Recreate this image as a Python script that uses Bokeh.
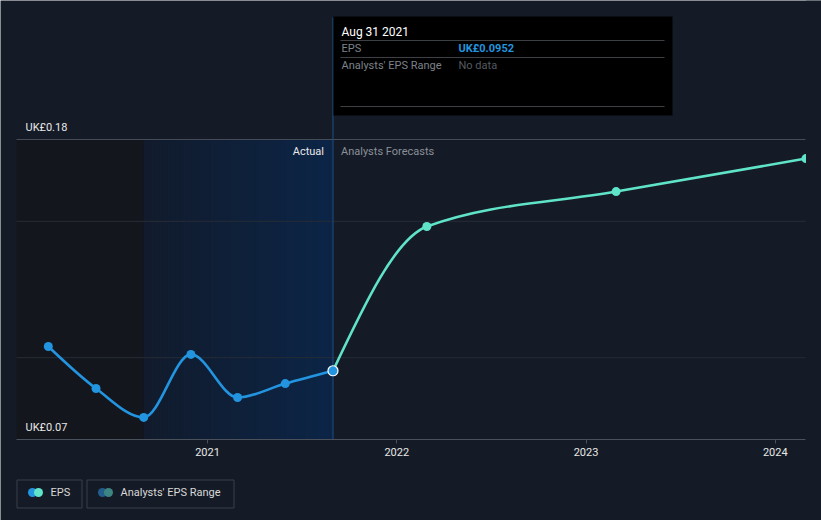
import numpy as np
import pandas as pd
from bokeh.plotting import figure
from bokeh.models import Range1d, FixedTicker, DatetimeTickFormatter, DatetimeAxis
from bokeh.core.properties import value
from bokeh.embed import file_html
from bokeh.resources import INLINE

# ---------------- data ----------------
actual_dates = ["2020-02-29", "2020-05-31", "2020-08-31", "2020-11-30",
                "2021-02-28", "2021-05-31", "2021-08-31"]
actual_eps = [0.1041, 0.0887, 0.0781, 0.1012, 0.0854, 0.0905, 0.0952]

forecast_dates = ["2021-08-31", "2022-02-28", "2023-02-28", "2024-02-29"]
forecast_eps = [0.0952, 0.1481, 0.1609, 0.1730]

year_ticks = ["2021-01-01", "2022-01-01", "2023-01-01", "2024-01-01"]
y_label_values = [0.18, 0.07]
y_labels = ["UK£0.18", "UK£0.07"]
grid_values = [0.10, 0.15]
y_min, y_max = 0.07, 0.18
past_start_date = "2020-08-31"   # start of the last-12-months shading
legend_labels = ["EPS", "Analysts' EPS Range"]

# ---------------- style / geometry ----------------
BG = "#151b26"
FONT = value("Roboto")
BLUE = "#2394df"
TEAL = "#5fe3c9"
DAY_MS = 86400000.0


def ms(d):
    return pd.Timestamp(d).value / 1e6


# pixel geometry of the frame (used for annotations / decoration)
T2021 = ms("2021-01-01")
PX_2021 = 207.0
PX_PER_DAY = 0.51854
PX_PER_UNIT = 300.0 / (y_max - y_min)
PL, PR = 16, 805          # plot band left / right edges (px)


def xd(px):
    return T2021 + (px - PX_2021) / PX_PER_DAY * DAY_MS


def ypx(v):
    return 439.0 - (v - y_min) * PX_PER_UNIT


def yd(py):
    return y_min + (439.0 - py) / PX_PER_UNIT


def monotone_bezier(dates, vals):
    xs = np.array([ms(d) for d in dates]) / DAY_MS
    ys = np.array(vals, dtype=float)
    n = len(xs)
    h = np.diff(xs)
    s = np.diff(ys) / h
    t = np.zeros(n)
    sg = lambda v: -1.0 if v < 0 else 1.0
    for i in range(1, n - 1):
        s0, s1 = s[i - 1], s[i]
        p_ = (s0 * h[i] + s1 * h[i - 1]) / (h[i - 1] + h[i])
        t[i] = (sg(s0) + sg(s1)) * min(abs(s0), abs(s1), 0.5 * abs(p_))
    t[0] = (3 * s[0] - t[1]) / 2
    t[-1] = (3 * s[-1] - t[-2]) / 2
    x0, x1 = xs[:-1], xs[1:]
    dx = h / 3.0
    return dict(
        x0=x0 * DAY_MS, y0=ys[:-1], x1=x1 * DAY_MS, y1=ys[1:],
        cx0=(x0 + dx) * DAY_MS, cy0=ys[:-1] + dx * t[:-1],
        cx1=(x1 - dx) * DAY_MS, cy1=ys[1:] - dx * t[1:],
    )


# ---------------- figure ----------------
p = figure(width=821, height=520,
           x_range=Range1d(xd(0), xd(821)), y_range=Range1d(yd(520), yd(0)),
           x_axis_location=None, y_axis_location=None,
           toolbar_location=None, output_backend="svg",
           min_border=0, min_border_left=0, min_border_right=0,
           min_border_top=0, min_border_bottom=0,
           background_fill_color=BG, border_fill_color=BG)
p.outline_line_color = None
p.xgrid.visible = False
p.ygrid.visible = False

# shaded regions
x_left = xd(PL)
x_right = xd(PR)
p_start = ms(past_start_date)
p_end = ms(actual_dates[-1])
p.quad(left=[x_left], right=[p_start], bottom=[y_min], top=[y_max],
       fill_color="#13161c", line_color=None)
N = 48
edges = np.linspace(p_start, p_end, N + 1)
c0 = np.array([0x11, 0x1b, 0x2c])
c1 = np.array([0x0c, 0x25, 0x47])
cols = []
for i in range(N):
    f = (i + 0.5) / N
    c = (c0 * (1 - f) + c1 * f).round().astype(int)
    cols.append("#%02x%02x%02x" % tuple(c))
# overlapping slices (each reaches the right end) -> no seams
p.quad(left=edges[:-1], right=[p_end] * N, bottom=y_min, top=y_max,
       fill_color=cols, line_color=None)

# horizontal grid lines + top line
p.segment(x0=[x_left] * 2, x1=[x_right] * 2, y0=grid_values, y1=grid_values,
          line_color="#262c37", line_width=1)
p.segment(x0=[x_left], x1=[x_right], y0=[y_max], y1=[y_max],
          line_color="#464c57", line_width=1)

# "now" line
p.segment(x0=[p_end], x1=[p_end], y0=[y_min], y1=[yd(17)],
          line_color="#1f4f86", line_width=1)

# axis baseline
p.segment(x0=[x_left], x1=[x_right], y0=[y_min], y1=[y_min],
          line_color="#4b515b", line_width=1)

# Actual / Analysts Forecasts labels
p.text(x=[p_end], y=[yd(151)], text=["Actual"], x_offset=-9,
       text_align="right", text_baseline="middle", text_font=FONT,
       text_font_size="11px", text_color="#e8e8e8")
p.text(x=[p_end], y=[yd(151)], text=["Analysts Forecasts"], x_offset=8,
       text_align="left", text_baseline="middle", text_font=FONT,
       text_font_size="11px", text_color="#8a8f98")

# y labels
p.text(x=[xd(25)] * 2, y=[yd(ypx(v) - 12) for v in y_label_values],
       text=y_labels, text_align="left", text_baseline="middle",
       text_font=FONT, text_font_size="11px", text_color="#e8e8e8")

# lines
fb = monotone_bezier(forecast_dates, forecast_eps)
p.bezier(line_color=TEAL, line_width=2.6, line_cap="round", **fb)
ab = monotone_bezier(actual_dates, actual_eps)
p.bezier(line_color=BLUE, line_width=2.6, line_cap="round", **ab)

p.scatter(x=[ms(d) for d in forecast_dates[1:]], y=forecast_eps[1:],
          size=9, fill_color=TEAL, line_color=None)
p.scatter(x=[ms(d) for d in actual_dates[:-1]], y=actual_eps[:-1],
          size=9, fill_color=BLUE, line_color=None)
p.scatter(x=[ms(actual_dates[-1])], y=[actual_eps[-1]], size=10,
          fill_color=BLUE, line_color="white", line_width=1.2)

# clip everything past the right edge of the plot band
p.quad(left=[xd(PR + 0.5)], right=[xd(821)], bottom=[yd(520)], top=[yd(0)],
       fill_color=BG, line_color=None)

# x axis (ticks + labels) drawn at the baseline
ax = DatetimeAxis(fixed_location=y_min)
ax.ticker = FixedTicker(ticks=[ms(d) for d in year_ticks])
ax.formatter = DatetimeTickFormatter(
    years="%Y", months="%Y", days="%Y", hours="%Y", minutes="%Y",
    seconds="%Y", milliseconds="%Y", microseconds="%Y", hourmin="%Y",
    minsec="%Y")
ax.axis_line_color = None
ax.major_tick_line_color = "#4b515b"
ax.major_tick_in = 0
ax.major_tick_out = 4
ax.minor_tick_line_color = None
ax.major_label_text_color = "#e8e8e8"
ax.major_label_text_font = "Roboto"
ax.major_label_text_font_size = "11px"
ax.major_label_standoff = 4
p.add_layout(ax, "below")

# tooltip box
p.quad(left=[xd(333)], right=[xd(672)], top=[yd(16)], bottom=[yd(115)],
       fill_color="#000000", line_color=None)
p.segment(x0=[xd(340)] * 3, x1=[xd(664)] * 3,
          y0=[yd(40), yd(57), yd(106)], y1=[yd(40), yd(57), yd(106)],
          line_color="#3d4045", line_width=1)
tip_date = pd.Timestamp(actual_dates[-1]).strftime("%b %d %Y")
p.text(x=[xd(341)], y=[yd(31)], text=[tip_date], text_align="left",
       text_baseline="middle", text_font=FONT, text_font_size="12px",
       text_color="#ffffff")
p.text(x=[xd(341)] * 2, y=[yd(48), yd(65)],
       text=["EPS", "Analysts' EPS Range"], text_align="left",
       text_baseline="middle", text_font=FONT, text_font_size="11px",
       text_color="#7d828a")
p.text(x=[xd(458)], y=[yd(48)], text=["UK£%.4f" % actual_eps[-1]],
       text_align="left", text_baseline="middle", text_font=FONT,
       text_font_size="11px", text_font_style="bold", text_color=BLUE)
p.text(x=[xd(458)], y=[yd(65)], text=["No data"], text_align="left",
       text_baseline="middle", text_font=FONT, text_font_size="11px",
       text_color="#555a61")

# legend (bottom strip)
p.quad(left=[xd(16.5), xd(86.5)], right=[xd(81.5), xd(233.5)],
       top=[yd(479.5)] * 2, bottom=[yd(507.5)] * 2, fill_color=None,
       line_color="#3b414b", line_width=1)
p.scatter(x=[xd(32), xd(38)], y=[yd(492)] * 2, size=9,
          fill_color=[BLUE, TEAL], line_color=None)
p.scatter(x=[xd(102), xd(108)], y=[yd(492)] * 2, size=9,
          fill_color=["#225d8c", "#3d8582"], line_color=None)
p.text(x=[xd(50), xd(120)], y=[yd(492)] * 2, text=legend_labels,
       text_align="left", text_baseline="middle", text_font=FONT,
       text_font_size="11px", text_color="#d8d8d8")

with open("out.html", "w") as f:
    f.write(file_html(p, INLINE))
